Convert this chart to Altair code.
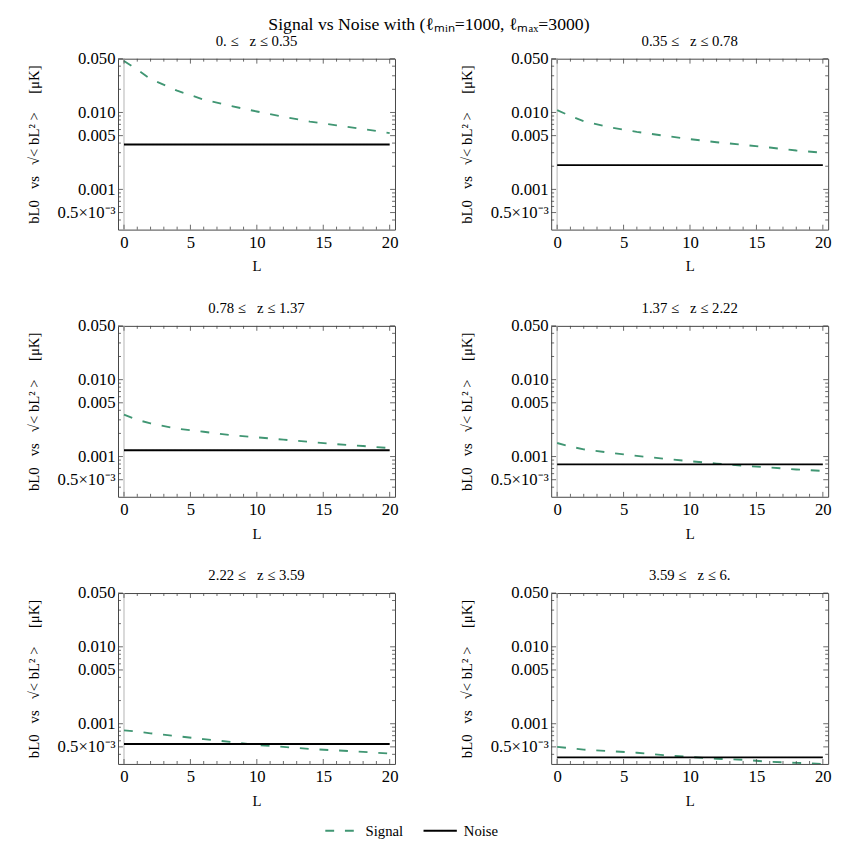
import altair as alt
import pandas as pd

# ---------------- data ----------------
L_VALUES = [0, 1, 2, 4, 6, 8, 10, 12, 14, 16, 18, 20]
PANEL_TITLES = ["0. \u2264\u2002 z \u2264 0.35", "0.35 \u2264\u2002 z \u2264 0.78", "0.78 \u2264\u2002 z \u2264 1.37",
                "1.37 \u2264\u2002 z \u2264 2.22", "2.22 \u2264\u2002 z \u2264 3.59", "3.59 \u2264\u2002 z \u2264 6."]
SIGNAL_1 = [0.0467, 0.0360, 0.0272, 0.0192, 0.0147, 0.0122, 0.0103, 0.0088, 0.0076, 0.0068, 0.0061, 0.0054]
SIGNAL_2 = [0.0107, 0.0090, 0.0077, 0.0064, 0.0056, 0.0050, 0.0045, 0.0041, 0.0038, 0.0035, 0.0032, 0.0030]
SIGNAL_3 = [0.0035, 0.0030, 0.0027, 0.0023, 0.0021, 0.0019, 0.00178, 0.00166, 0.00155, 0.00145, 0.00137, 0.00129]
SIGNAL_4 = [0.0015, 0.00135, 0.00124, 0.00112, 0.00102, 0.00094, 0.00087, 0.00081, 0.00076, 0.00072, 0.00068, 0.00065]
SIGNAL_5 = [0.00082, 0.00079, 0.00075, 0.00069, 0.00063, 0.00058, 0.00053, 0.00050, 0.00047, 0.00045, 0.00043, 0.00041]
SIGNAL_6 = [0.00050, 0.00048, 0.00046, 0.00044, 0.00042, 0.00039, 0.00037, 0.00035, 0.00034, 0.00032, 0.00031, 0.00030]
SIGNALS = [SIGNAL_1, SIGNAL_2, SIGNAL_3, SIGNAL_4, SIGNAL_5, SIGNAL_6]
NOISE = [0.00384, 0.00207, 0.00121, 0.00079, 0.000545, 0.000365]

Y_TICK_VALUES = [0.0005, 0.001, 0.005, 0.01, 0.05]
Y_MINOR = [0.0004, 0.0006, 0.0007, 0.0008, 0.0009, 0.002, 0.003, 0.004, 0.006, 0.007,
           0.008, 0.009, 0.02, 0.03, 0.04]
X_TICK_VALUES = [0, 5, 10, 15, 20]
X_MINOR = [1, 2, 3, 4, 6, 7, 8, 9, 11, 12, 13, 14, 16, 17, 18, 19]

TITLE = "Signal vs Noise with (\u2113\u2098\u1d62\u2099=1000, \u2113\u2098\u2090\u2093=3000)"
Y_TITLE = "bL0\u2002 vs \u2002\u221a< bL\u00b2 >\u2003 [\u03bcK]"

# ---------------- styling ----------------
FONT = "Liberation Serif"
W, H = 282, 174
XDOM = [-0.45, 20.4]
YDOM = [0.0003, 0.05]
GREEN = "#409673"

rows = []
for i, sig in enumerate(SIGNALS):
    for L, v in zip(L_VALUES, sig):
        rows.append({"panel": i, "L": L, "series": "Signal", "value": v})
    for L in L_VALUES:
        rows.append({"panel": i, "L": L, "series": "Noise", "value": NOISE[i]})
df = pd.DataFrame(rows)

xmaj = pd.DataFrame({"L": X_TICK_VALUES})
xmin = pd.DataFrame({"L": X_MINOR})
ymaj = pd.DataFrame({"value": Y_TICK_VALUES})
ymin = pd.DataFrame({"value": Y_MINOR})

xscale = alt.Scale(domain=XDOM, nice=False, zero=False)
yscale = alt.Scale(type="log", domain=YDOM, nice=False)

label_expr = ("datum.value == 0.05 ? '0.050' : datum.value == 0.01 ? '0.010' : "
              "datum.value == 0.005 ? '0.005' : datum.value == 0.001 ? '0.001' : '0.5\u00d710\u207b\u00b3'")

XAXIS = alt.Axis(values=X_TICK_VALUES, title="L", ticks=False, domain=False, grid=False,
                 labelPadding=5, titlePadding=9)
YAXIS = alt.Axis(values=Y_TICK_VALUES, labelExpr=label_expr, title=Y_TITLE, ticks=False,
                 domain=False, grid=False, labelPadding=3, titlePadding=16)

LEG = alt.Legend(title=None, orient="none", legendX=210, legendY=768)


def X(f="L"):
    return alt.X(f + ":Q", scale=xscale, axis=XAXIS)


def Y(f="value"):
    return alt.Y(f + ":Q", scale=yscale, axis=YAXIS)


def panel(i):
    lines = alt.Chart(df).transform_filter(alt.datum.panel == i).mark_line(
        clip=True, strokeWidth=1.9
    ).encode(
        x=X(), y=Y(),
        color=alt.Color("series:N", scale=alt.Scale(domain=["Signal", "Noise"], range=[GREEN, "black"]),
                        legend=LEG),
        strokeDash=alt.StrokeDash("series:N", scale=alt.Scale(domain=["Signal", "Noise"],
                                                              range=[[9, 11], [1, 0]]),
                                  legend=LEG),
    )
    zero = alt.Chart(pd.DataFrame({"L": [0]})).mark_rule(color="#cccccc", strokeWidth=1.5).encode(x=X())
    tk = []
    for d, ln in [(xmaj, 5), (xmin, 3)]:
        tk.append(alt.Chart(d).mark_rule(color="#444", strokeWidth=0.8).encode(
            x=X(), y=alt.value(H), y2=alt.value(H - ln)))
        tk.append(alt.Chart(d).mark_rule(color="#444", strokeWidth=0.8).encode(
            x=X(), y=alt.value(0), y2=alt.value(ln)))
    for d, ln in [(ymaj, 5), (ymin, 3)]:
        tk.append(alt.Chart(d).mark_rule(color="#444", strokeWidth=0.8).encode(
            y=Y(), x=alt.value(0), x2=alt.value(ln)))
        tk.append(alt.Chart(d).mark_rule(color="#444", strokeWidth=0.8).encode(
            y=Y(), x=alt.value(W), x2=alt.value(W - ln)))
    return alt.layer(zero, lines, *tk).properties(
        width=W, height=H,
        title=alt.TitleParams(PANEL_TITLES[i], fontSize=15, font=FONT, fontWeight="normal", offset=1),
    )


chart = alt.vconcat(
    *[alt.hconcat(panel(2 * r), panel(2 * r + 1), spacing=61) for r in range(3)],
    spacing=26,
).properties(
    title=alt.TitleParams(TITLE, fontSize=18, font=FONT, fontWeight="normal", anchor="middle", offset=0),
    padding={"left": 18, "top": 0, "right": 5, "bottom": 5},
).configure_view(
    stroke="#444", strokeWidth=1
).configure_axis(
    labelFont=FONT, titleFont=FONT, labelFontSize=17, titleFontSize=15, titleFontWeight="normal",
    labelColor="black", titleColor="black",
).configure_legend(
    direction="horizontal", labelFont=FONT, labelFontSize=15, symbolType="stroke",
    symbolSize=1150, symbolStrokeWidth=1.9, labelColor="black", columnPadding=16, labelOffset=6,
).configure_title(font=FONT, color="black")

chart.save("out.html", embed_options={"renderer": "svg", "actions": False})
